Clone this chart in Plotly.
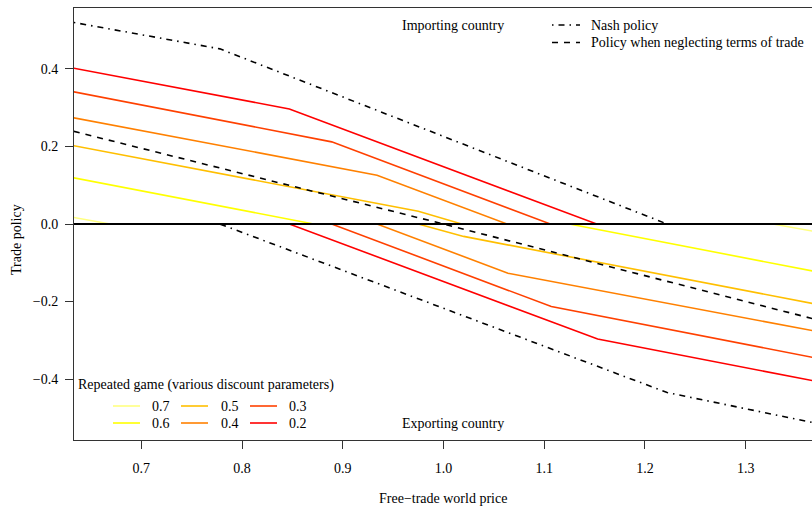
import plotly.graph_objects as go

# ---------------- data ----------------
deltas = ["0.7", "0.6", "0.5", "0.4", "0.3", "0.2"]
colors = ["#FFFF80", "#FFFF00", "#FFBF00", "#FF8000", "#FF4000", "#FF0000"]

# importing-country policy (upper branch)
imp_x = {
    "0.7": [0.633, 0.669, 1.366],
    "0.6": [0.633, 0.871, 1.366],
    "0.5": [0.633, 0.975, 1.018, 1.366],
    "0.4": [0.633, 0.934, 1.063, 1.366],
    "0.3": [0.633, 0.889, 1.106, 1.366],
    "0.2": [0.633, 0.847, 1.152, 1.366],
}
imp_y = {
    "0.7": [0.017, 0.0, 0.0],
    "0.6": [0.119, 0.0, 0.0],
    "0.5": [0.202, 0.033, 0.0, 0.0],
    "0.4": [0.274, 0.126, 0.0, 0.0],
    "0.3": [0.341, 0.212, 0.0, 0.0],
    "0.2": [0.402, 0.297, 0.0, 0.0],
}
# exporting-country policy (lower branch)
exp_x = {
    "0.7": [0.633, 1.327, 1.366],
    "0.6": [0.633, 1.125, 1.366],
    "0.5": [0.633, 0.975, 1.020, 1.366],
    "0.4": [0.633, 0.934, 1.064, 1.366],
    "0.3": [0.633, 0.889, 1.107, 1.366],
    "0.2": [0.633, 0.847, 1.153, 1.366],
}
exp_y = {
    "0.7": [0.0, 0.0, -0.018],
    "0.6": [0.0, 0.0, -0.121],
    "0.5": [0.0, 0.0, -0.032, -0.205],
    "0.4": [0.0, 0.0, -0.127, -0.275],
    "0.3": [0.0, 0.0, -0.213, -0.344],
    "0.2": [0.0, 0.0, -0.297, -0.404],
}

nash_imp_x = [0.633, 0.778, 1.222, 1.366]
nash_imp_y = [0.520, 0.452, 0.0, 0.0]
nash_exp_x = [0.633, 0.778, 1.222, 1.366]
nash_exp_y = [0.0, 0.0, -0.435, -0.512]

neglect_x = [0.633, 1.0, 1.366]
neglect_y = [0.239, 0.0, -0.244]

x_ticks = [0.7, 0.8, 0.9, 1.0, 1.1, 1.2, 1.3]
y_ticks = [-0.4, -0.2, 0.0, 0.2, 0.4]

# ---------------- figure ----------------
W, H = 812, 507
ML, MT, MR, MB = 74, 8, 0, 67
PW, PH = W - ML - MR, H - MT - MB

def px(x):
    return (x - ML) / PW

def py(y):
    return (H - MB - y) / PH

FONT = "Liberation Serif, Times New Roman, serif"
FS = 14
NASH_DASH = "1.5px,5px,6px,5px"
NEG_DASH = "6px,6px"

fig = go.Figure()

for d, c in zip(deltas, colors):
    fig.add_trace(go.Scatter(x=imp_x[d], y=imp_y[d], mode="lines",
                             line=dict(color=c, width=1.6), showlegend=False,
                             hoverinfo="skip"))
    fig.add_trace(go.Scatter(x=exp_x[d], y=exp_y[d], mode="lines",
                             line=dict(color=c, width=1.6), showlegend=False,
                             hoverinfo="skip"))

fig.add_trace(go.Scatter(x=neglect_x, y=neglect_y, mode="lines",
                         line=dict(color="black", width=1.6, dash=NEG_DASH),
                         showlegend=False, hoverinfo="skip"))
fig.add_trace(go.Scatter(x=nash_imp_x, y=nash_imp_y, mode="lines",
                         line=dict(color="black", width=1.6, dash=NASH_DASH),
                         showlegend=False, hoverinfo="skip"))
fig.add_trace(go.Scatter(x=nash_exp_x, y=nash_exp_y, mode="lines",
                         line=dict(color="black", width=1.6, dash=NASH_DASH),
                         showlegend=False, hoverinfo="skip"))

shapes = []
# zero line
shapes.append(dict(type="line", xref="paper", yref="y", x0=0, x1=1, y0=0, y1=0,
                   line=dict(color="black", width=2), layer="above"))

annotations = []

def text(x, y, s, anchor="left"):
    annotations.append(dict(x=px(x), y=py(y), xref="paper", yref="paper",
                            text=s, showarrow=False, xanchor=anchor,
                            yanchor="middle",
                            font=dict(family=FONT, size=FS, color="black")))

# top legend
shapes.append(dict(type="line", xref="paper", yref="paper", x0=px(552), x1=px(580),
                   y0=py(25), y1=py(25), line=dict(color="black", width=1.6, dash=NASH_DASH)))
shapes.append(dict(type="line", xref="paper", yref="paper", x0=px(552), x1=px(580),
                   y0=py(42.5), y1=py(42.5), line=dict(color="black", width=1.6, dash=NEG_DASH)))
text(589, 25, "Nash policy")
text(589, 42.5, "Policy when neglecting terms of trade")
text(453, 25, "Importing country", "center")
text(453, 423, "Exporting country", "center")

# bottom-left legend
text(76, 385, "Repeated game (various discount parameters)")
cols = [(113, 150), (181, 219), (250, 287)]
rows = [406, 423]
for i, (d, c) in enumerate(zip(deltas, colors)):
    cx, tx = cols[i // 2]
    ry = rows[i % 2]
    shapes.append(dict(type="line", xref="paper", yref="paper", x0=px(cx), x1=px(cx + 27),
                       y0=py(ry), y1=py(ry), line=dict(color=c, width=1.6)))
    text(tx, ry, d)

# axis titles
text(443, 499, "Free\u2212trade world price", "center")
annotations.append(dict(x=px(17), y=py(240), xref="paper", yref="paper",
                        text="Trade policy", showarrow=False, textangle=-90,
                        xanchor="center", yanchor="middle",
                        font=dict(family=FONT, size=FS, color="black")))

fig.update_layout(
    width=W, height=H,
    margin=dict(l=ML, r=MR, t=MT, b=MB),
    paper_bgcolor="white", plot_bgcolor="white",
    showlegend=False,
    shapes=shapes, annotations=annotations,
    font=dict(family=FONT, size=FS, color="black"),
    xaxis=dict(range=[0.6332, 1.3658], tickvals=x_ticks,
               ticktext=[f"{v:.1f}" for v in x_ticks],
               showgrid=False, zeroline=False, showline=True, mirror=True,
               linecolor="#333", linewidth=1, ticks="outside", ticklen=8,
               ticklabelstandoff=7,
               tickcolor="#333", tickfont=dict(family=FONT, size=FS, color="black")),
    yaxis=dict(range=[-0.5574, 0.5574], tickvals=y_ticks,
               ticktext=[("\u2212" if v < 0 else "") + f"{abs(v):.1f}" for v in y_ticks],
               showgrid=False, zeroline=False, showline=True, mirror=False,
               linecolor="#333", linewidth=1, ticks="outside", ticklen=8,
               ticklabelstandoff=4,
               tickcolor="#333", tickfont=dict(family=FONT, size=FS, color="black")),
)

fig.write_html("out.html", config={"displayModeBar": False},
               post_script="document.body.style.margin='0';document.body.style.padding='0';")
